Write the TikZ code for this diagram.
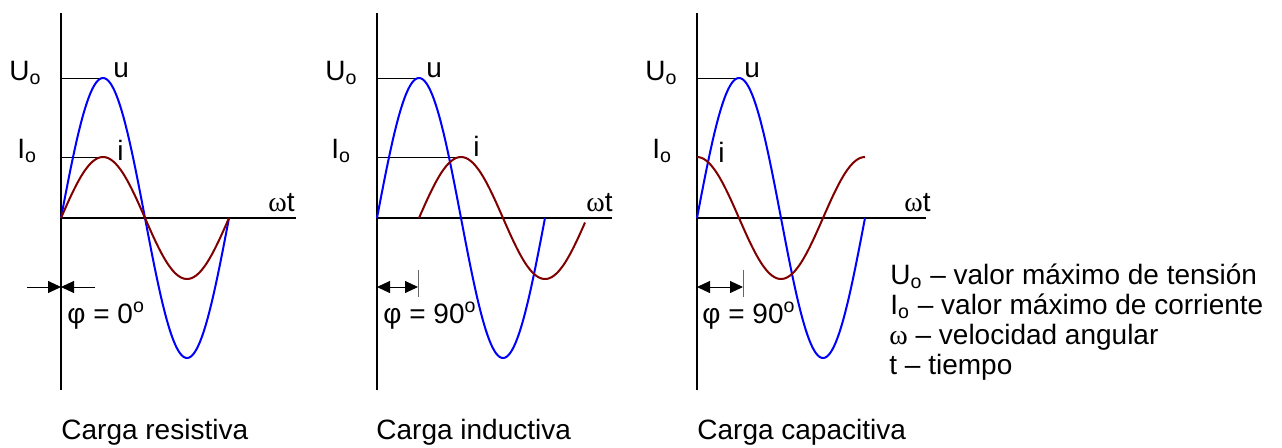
\documentclass[tikz,border=0pt]{standalone}
\usepackage{fontspec}
\setmainfont{Liberation Sans}
\newfontfamily\omegafont{Liberation Serif}
\usetikzlibrary{arrows.meta}
\definecolor{ucol}{RGB}{0,0,255}
\definecolor{icol}{RGB}{128,0,0}
\tikzset{
  axis/.style={line width=1pt},
  level/.style={line width=0.5pt},
  marktick/.style={line width=0.5pt, black!60},
  uwave/.style={ucol, line width=1pt, samples=120},
  iwave/.style={icol, line width=1pt, samples=120},
  lbl/.style={inner sep=0pt, anchor=base west},
}
\newcommand{\wt}{{\omegafont ω}t}

\begin{document}
\begin{tikzpicture}[>={Triangle[length=6.5pt,width=6pt]}, x=0.5pt, y=0.5pt, font=\fontsize{14}{16}\selectfont]
\useasboundingbox (0,0) rectangle (1282,447);

% Carga resistiva
\begin{scope}[shift={(61,229)}]
    \draw[axis] (0,205) -- (0,-172);
    \draw[axis] (0,0) -- (235,0);
    \draw[level] (0,140) -- (42,140);
    \draw[level] (0,61) -- (42,61);
    \draw[uwave, domain=0:168] plot (\x, {140*sin(\x/168*360)});
    \draw[iwave, domain=0:168] plot (\x, {61*sin(\x/168*360)});
    \node[lbl] (rU) at (-52,138) {U\textsubscript{o}};
    \node[lbl] (rI) at (-44,60) {I\textsubscript{o}};
    \node[lbl] (ru) at (52,141) {u};
    \node[lbl] (ri) at (56,58) {i};
    \node[lbl] (rwt) at (207,7) {\wt};
    % desfase
    \coordinate (rP) at (0,-69);
    \coordinate (rL) at (-34,-69);
    \coordinate (rR) at (34,-69);
    \draw[level, ->] (rL) -- (rP);
    \draw[level, ->] (rR) -- (rP);
    \node[lbl] (rphi) at (6,-105) {φ = 0\textsuperscript{o}};
\end{scope}

% Carga inductiva
\begin{scope}[shift={(377,229)}]
    \draw[axis] (0,205) -- (0,-172);
    \draw[axis] (0,0) -- (235,0);
    \draw[level] (0,140) -- (42,140);
    \draw[level] (0,61) -- (84,61);
    \draw[uwave, domain=0:168] plot (\x, {140*sin(\x/168*360)});
    \draw[iwave, domain=42:208] plot (\x, {61*sin((\x-42)/168*360)});
    \node[lbl] (lU) at (-52,138) {U\textsubscript{o}};
    \node[lbl] (lI) at (-46,60) {I\textsubscript{o}};
    \node[lbl] (lu) at (49,141) {u};
    \node[lbl] (li) at (96,62) {i};
    \node[lbl] (lwt) at (209,7) {\wt};
    % desfase
    \coordinate (lA) at (0,-69);
    \coordinate (lB) at (41,-69);
    \draw[level, <->] (lA) -- (lB);
    \draw[marktick] (41,-52) -- (41,-79);
    \node[lbl] (lphi) at (6,-105) {φ = 90\textsuperscript{o}};
\end{scope}

% Carga capacitiva
\begin{scope}[shift={(697,229)}]
    \draw[axis] (0,205) -- (0,-172);
    \draw[axis] (0,0) -- (229,0);
    \draw[level] (0,140) -- (42,140);
    \draw[uwave, domain=0:168] plot (\x, {140*sin(\x/168*360)});
    \draw[iwave, domain=0:168] plot (\x, {61*cos(\x/168*360)});
    \node[lbl] (cU) at (-52,138) {U\textsubscript{o}};
    \node[lbl] (cI) at (-45,60) {I\textsubscript{o}};
    \node[lbl] (cu) at (47,141) {u};
    \node[lbl] (ci) at (21,56) {i};
    \node[lbl] (cwt) at (207,7) {\wt};
    % desfase
    \coordinate (cA) at (0,-69);
    \coordinate (cB) at (46,-69);
    \draw[level, <->] (cA) -- (cB);
    \draw[marktick] (46,-52) -- (46,-79);
    \node[lbl] (cphi) at (5,-105) {φ = 90\textsuperscript{o}};
\end{scope}

% titulos
\node[lbl] (tr) at (61,8) {Carga resistiva};
\node[lbl] (ti) at (376,8) {Carga inductiva};
\node[lbl] (tc) at (697,8) {Carga capacitiva};

% leyenda
\node[lbl] (k1) at (890,163) {U\textsubscript{o} -- valor máximo de tensión};
\node[lbl] (k2) at (890,133) {I\textsubscript{o} -- valor máximo de corriente};
\node[lbl] (k3) at (889,103) {{\omegafont ω} -- velocidad angular};
\node[lbl] (k4) at (889,73) {t -- tiempo};
\end{tikzpicture}
\end{document}
